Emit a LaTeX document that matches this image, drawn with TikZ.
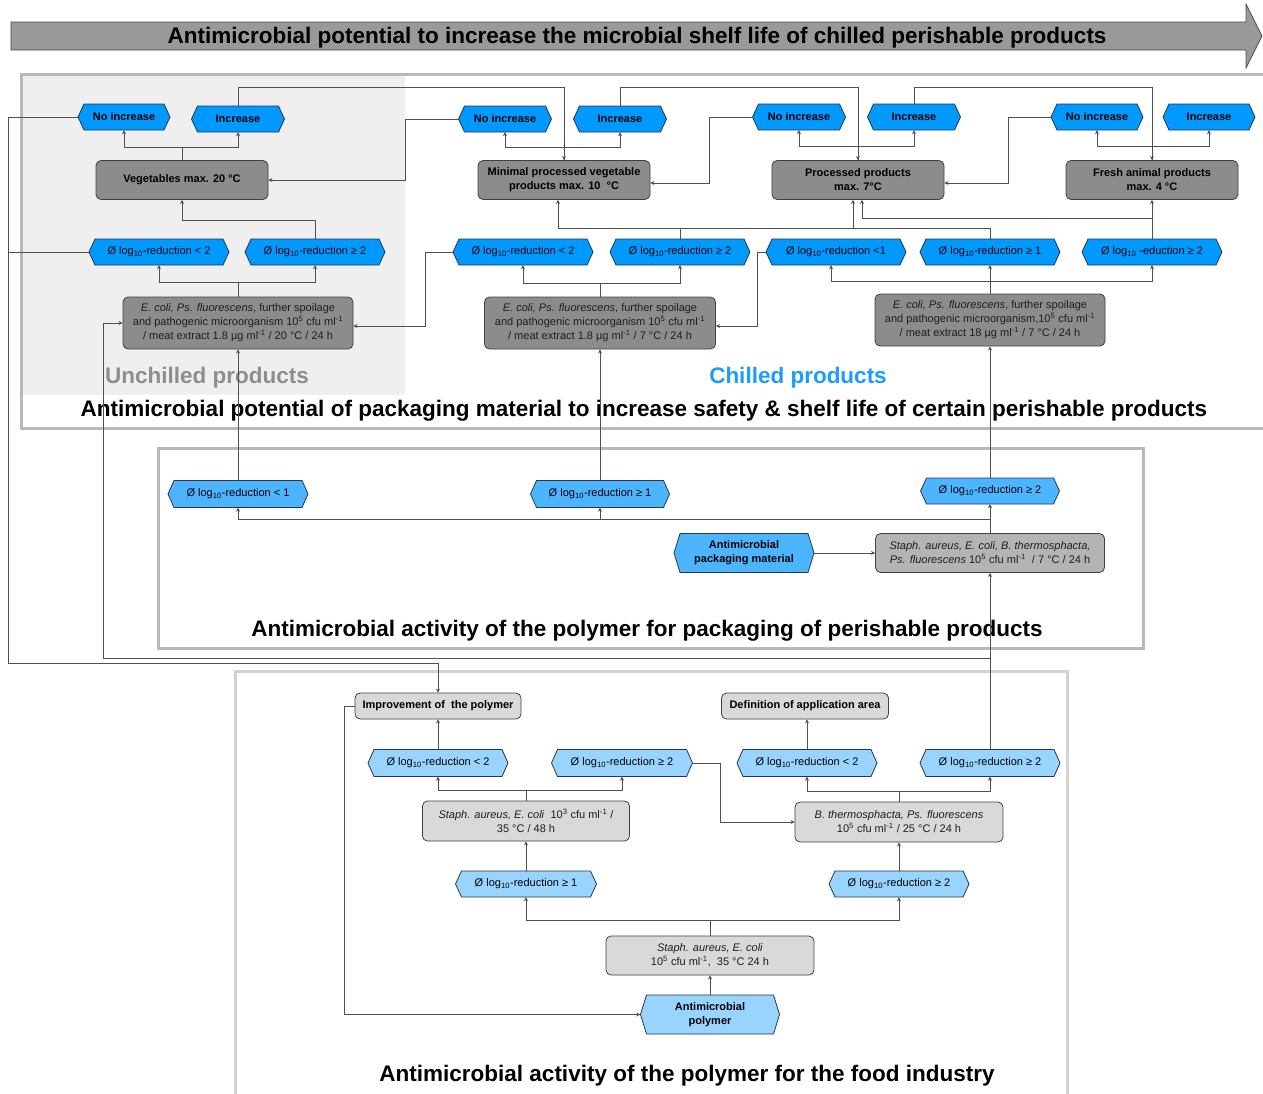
\documentclass[tikz,border=0pt]{standalone}
\usepackage{fontspec}
\setmainfont{Liberation Sans}
\usetikzlibrary{calc,arrows.meta}
\pgfdeclarelayer{bg}
\pgfdeclarelayer{conn}
\pgfsetlayers{bg,conn,main}

\definecolor{blueA}{RGB}{0,153,255}
\definecolor{blueB}{RGB}{77,181,255}
\definecolor{blueC}{RGB}{153,212,255}
\definecolor{grayA}{RGB}{140,140,140}
\definecolor{grayB}{RGB}{180,180,180}
\definecolor{grayC}{RGB}{217,217,217}
\definecolor{hexb}{RGB}{40,55,75}
\definecolor{boxb}{RGB}{64,64,64}
\definecolor{linec}{RGB}{80,80,80}
\definecolor{secA}{RGB}{185,185,185}
\definecolor{secC}{RGB}{210,210,210}
\definecolor{shadeg}{RGB}{239,239,239}
\definecolor{arrowg}{RGB}{153,153,153}
\definecolor{unchg}{RGB}{142,142,142}
\definecolor{chillb}{RGB}{28,156,255}
\definecolor{etext}{RGB}{30,30,30}

\tikzset{
  conn/.style={draw=linec, line width=0.8pt},
  arr/.style={conn, -{Stealth[length=4pt,width=4pt]}},
  both/.style={conn, {Stealth[length=4pt,width=4pt]}-{Stealth[length=4pt,width=4pt]}},
  hexn/.style={shape=rectangle, inner sep=0pt, align=center, text=black,
    font=\fontsize{11}{14}\selectfont},
  gbox/.style={shape=rectangle, draw=boxb, line width=0.8pt, rounded corners=5pt,
    align=center, inner sep=1pt, text=black, font=\fontsize{11}{14}\selectfont},
  ebox/.style={gbox, text=etext, font=\fontsize{11}{14}\selectfont},
  secbox/.style={line width=3pt},
  sectitle/.style={font=\fontsize{22.5}{26}\bfseries\selectfont, text=black, inner sep=0pt}
}

% #1 fill, #2 name, #3 x, #4 y, #5 width, #6 height, #7 text
\newcommand\HexNode[7]{%
  \filldraw[fill=#1, draw=hexb, line width=0.8pt]
    ({#3-#5/2},{#4}) -- ({#3-#5/2+6},{#4-#6/2}) -- ({#3+#5/2-6},{#4-#6/2})
    -- ({#3+#5/2},{#4}) -- ({#3+#5/2-6},{#4+#6/2}) -- ({#3-#5/2+6},{#4+#6/2}) -- cycle;
  \node[hexn, minimum width=#5pt, minimum height=#6pt] (#2) at (#3,#4) {#7};
}
\newcommand\lgr{Ø log\textsubscript{10}-reduction}

\begin{document}
\begin{tikzpicture}[x=1pt,y=-1pt]
\useasboundingbox (0,0) rectangle (1263,1093);

\begin{pgfonlayer}{bg}
  \filldraw[fill=arrowg, draw=black!70, line width=0.8pt]
    (11,22) -- (1246,22) -- (1246,4) -- (1262,36) -- (1246,68) -- (1246,50) -- (11,50) -- cycle;
  \node[font=\fontsize{22.5}{26}\bfseries\selectfont, inner sep=0pt] (ttl) at (637,38)
    {Antimicrobial potential to increase the microbial shelf life of chilled perishable products};
  \fill[shadeg] (23,76) rectangle (405,395);
  \draw[secbox, draw=secA] (21,74) rectangle (1290,428);
  \draw[secbox, draw=secA] (158,448) rectangle (1143,648);
  \draw[secbox, draw=secC] (235,671) rectangle (1067,1110);
  \node[sectitle, text=unchg] (unch) at (207,378) {Unchilled products};
  \node[sectitle, text=chillb] (chill) at (798,378) {Chilled products};
  \node[sectitle] (t1) at (644,411) {Antimicrobial potential of packaging material to increase safety \& shelf life of certain perishable products};
  \node[sectitle] (t2) at (647,631) {Antimicrobial activity of the polymer for packaging of perishable products};
  \node[sectitle] (t3) at (687,1076) {Antimicrobial activity of the polymer for the food industry};
\end{pgfonlayer}

% ---------- top row ----------
\HexNode{blueA}{ni1}{124}{117}{92}{26}{\bfseries No increase}
\HexNode{blueA}{in1}{238}{119}{93}{26}{\bfseries Increase}
\HexNode{blueA}{ni2}{505}{119}{93}{26}{\bfseries No increase}
\HexNode{blueA}{in2}{620}{119}{93}{26}{\bfseries Increase}
\HexNode{blueA}{ni3}{799}{117}{93}{26}{\bfseries No increase}
\HexNode{blueA}{in3}{914}{117}{93}{26}{\bfseries Increase}
\HexNode{blueA}{ni4}{1097}{117}{92}{26}{\bfseries No increase}
\HexNode{blueA}{in4}{1209}{117}{92}{26}{\bfseries Increase}

\node[gbox, fill=grayA, minimum width=172pt, minimum height=39pt, font=\fontsize{11}{14}\bfseries\selectfont] (veg) at (182,180) {Vegetables max. 20 °C};
\node[gbox, fill=grayA, minimum width=172pt, minimum height=39pt, font=\fontsize{11}{14}\bfseries\selectfont] (minp) at (564,180) {Minimal processed vegetable\\products max. 10~ °C};
\node[gbox, fill=grayA, minimum width=172pt, minimum height=39pt, font=\fontsize{11}{14}\bfseries\selectfont] (proc) at (858,180) {Processed products\\max. 7°C};
\node[gbox, fill=grayA, minimum width=172pt, minimum height=39pt, font=\fontsize{11}{14}\bfseries\selectfont] (fresh) at (1152,180) {Fresh animal products\\max. 4 °C};

\HexNode{blueA}{r1a}{159}{252}{140}{26}{\lgr{} < 2}
\HexNode{blueA}{r1b}{315}{252}{140}{26}{\lgr{} ≥ 2}
\HexNode{blueA}{r2a}{523}{252}{140}{26}{\lgr{} < 2}
\HexNode{blueA}{r2b}{680}{252}{140}{26}{\lgr{} ≥ 2}
\HexNode{blueA}{r3a}{836}{252}{140}{26}{\lgr{} <1}
\HexNode{blueA}{r3b}{990}{252}{140}{26}{\lgr{} ≥ 1}
\HexNode{blueA}{r4}{1152}{252}{140}{26}{Ø log\textsubscript{10} -eduction ≥ 2}

\node[ebox, fill=grayA, minimum width=230pt, minimum height=52pt] (e1) at (238,323)
  {\textit{E. coli, Ps. fluorescens}, further spoilage\\and pathogenic microorganism 10\textsuperscript{5} cfu ml\textsuperscript{-1}\\/ meat extract 1.8 µg ml\textsuperscript{-1} / 20 °C / 24 h};
\node[ebox, fill=grayA, minimum width=231pt, minimum height=52pt] (e2) at (600,323)
  {\textit{E. coli, Ps. fluorescens}, further spoilage\\and pathogenic microorganism 10\textsuperscript{5} cfu ml\textsuperscript{-1}\\/ meat extract 1.8 µg ml\textsuperscript{-1} / 7 °C / 24 h};
\node[ebox, fill=grayA, minimum width=230pt, minimum height=52pt] (e3) at (990,320)
  {\textit{E. coli, Ps. fluorescens}, further spoilage\\and pathogenic microorganism,10\textsuperscript{5} cfu ml\textsuperscript{-1}\\/ meat extract 18 µg ml\textsuperscript{-1} / 7 °C / 24 h};

% ---------- middle ----------
\HexNode{blueB}{m1}{238}{494}{140}{27}{\lgr{} < 1}
\HexNode{blueB}{m2}{600}{494}{139}{27}{\lgr{} ≥ 1}
\HexNode{blueB}{m3}{990}{491}{139}{26}{\lgr{} ≥ 2}
\HexNode{blueB}{amp}{744}{553}{140}{39}{\bfseries Antimicrobial\\\bfseries packaging material}
\node[ebox, fill=grayB, minimum width=229pt, minimum height=39pt] (stb) at (990,553)
  {\textit{Staph. aureus, E. coli, B. thermosphacta,}\\\textit{Ps. fluorescens} 10\textsuperscript{5} cfu ml\textsuperscript{-1}~ / 7 °C / 24 h};

% ---------- bottom ----------
\node[gbox, fill=grayC, minimum width=166pt, minimum height=26pt, font=\fontsize{11}{14}\bfseries\selectfont] (impr) at (438,706) {Improvement of~ the polymer};
\node[gbox, fill=grayC, minimum width=167pt, minimum height=26pt, font=\fontsize{11}{14}\bfseries\selectfont] (def) at (805,706) {Definition of application area};
\HexNode{blueC}{b1}{438}{763}{140}{27}{\lgr{} < 2}
\HexNode{blueC}{b2}{622}{763}{141}{27}{\lgr{} ≥ 2}
\HexNode{blueC}{b3}{807}{763}{140}{27}{\lgr{} < 2}
\HexNode{blueC}{b4}{990}{763}{140}{27}{\lgr{} ≥ 2}
\node[ebox, fill=grayC, minimum width=207pt, minimum height=40pt] (sa1) at (526,821)
  {\textit{Staph. aureus, E. coli}~ 10\textsuperscript{3} cfu ml\textsuperscript{-1} /\\35 °C / 48 h};
\node[ebox, fill=grayC, minimum width=208pt, minimum height=40pt] (bt) at (899,822)
  {\textit{B. thermosphacta, Ps. fluorescens}\\10\textsuperscript{5} cfu ml\textsuperscript{-1} / 25 °C / 24 h};
\HexNode{blueC}{b5}{526}{884}{141}{26}{\lgr{} ≥ 1}
\HexNode{blueC}{b6}{899}{884}{140}{26}{\lgr{} ≥ 2}
\node[ebox, fill=grayC, minimum width=208pt, minimum height=39pt] (sa2) at (710,955.5)
  {\textit{Staph. aureus, E. coli}\\10\textsuperscript{5} cfu ml\textsuperscript{-1},~ 35 °C 24 h};
\HexNode{blueC}{ap}{710}{1014.5}{139}{39}{\bfseries Antimicrobial\\\bfseries polymer}

% ---------- connectors ----------
\begin{pgfonlayer}{conn}
  \draw[conn] (veg.north) -- (veg.north |- 0,147);
  \draw[both] (ni1.south) -- (ni1.south |- 0,147) -- (in1.south |- 0,147) -- (in1.south);
  \draw[arr] (in1.north) -- (in1.north |- 0,87) -| (minp.north);
  \draw[arr] (ni2.west) -- (ni2.west -| 405,0) |- (veg.east);
  \draw[arr] (r1b.north) -- (r1b.north |- 0,220) -| (veg.south);
  \draw[arr] (ni1.west) -- (ni1.west -| 8,0) -- (8,663) -| (impr.north);
  \draw[conn] (r1a.west) -- (r1a.west -| 8,0);

  \draw[conn] (minp.north) -- (minp.north |- 0,147);
  \draw[both] (ni2.south) -- (ni2.south |- 0,147) -- (in2.south |- 0,147) -- (in2.south);
  \draw[arr] (in2.north) -- (in2.north |- 0,87) -| (proc.north);
  \draw[arr] (ni3.west) -- (ni3.west -| 709,0) |- ($(minp.east)+(0,3)$);

  \draw[conn] (proc.north) -- (proc.north |- 0,146);
  \draw[both] (ni3.south) -- (ni3.south |- 0,146) -- (in3.south |- 0,146) -- (in3.south);
  \draw[arr] (in3.north) -- (in3.north |- 0,87) -| (fresh.north);
  \draw[arr] (ni4.west) -- (ni4.west -| 1008,0) |- ($(proc.east)+(0,3)$);

  \draw[conn] (fresh.north) -- (fresh.north |- 0,146);
  \draw[both] (ni4.south) -- (ni4.south |- 0,146) -- (in4.south |- 0,146) -- (in4.south);

  \draw[conn] (e1.north) -- (e1.north |- 0,282);
  \draw[both] (r1a.south) -- (r1a.south |- 0,282) -- (r1b.south |- 0,282) -- (r1b.south);
  \draw[arr] (r2a.west) -- (r2a.west -| 425,0) |- ($(e1.east)+(0,3)$);
  \draw[conn] (e2.north) -- (e2.north |- 0,283);
  \draw[both] (r2a.south) -- (r2a.south |- 0,283) -- (r2b.south |- 0,283) -- (r2b.south);
  \draw[arr] (r2b.north) -- (r2b.north |- 0,228) -| ($(minp.south)+(-6,0)$);
  \draw[arr] (r2b.north |- 0,228) -| ($(proc.south)+(-5,0)$);
  \draw[conn] (r3b.north) -- (r3b.north |- 0,228) -- (r2b.north |- 0,228);
  \draw[arr] (r3a.west) -- (r3a.west -| 757,0) |- ($(e2.east)+(0,3)$);
  \draw[arr] (r4.north) -- (fresh.south);
  \draw[arr] (r4.north |- 0,218) -| ($(proc.south)+(4,0)$);
  \draw[conn] (e3.north) -- (e3.north |- 0,281);
  \draw[both] ($(r3a.south)+(-5,0)$) -- ++(0,16) -| (r4.south);
  \draw[arr] (e3.north) -- (r3b.south);

  \draw[arr] (m1.north) -- (e1.south);
  \draw[arr] (m2.north) -- (e2.south);
  \draw[arr] (m3.north) -- (e3.south);
  \draw[arr] (stb.north) -- (m3.south);
  \draw[arr] (stb.north |- 0,519) -| (m1.south);
  \draw[arr] (m2.south |- 0,519) -- (m2.south);
  \draw[arr] (amp.east) -- (stb.west);
  \draw[arr] (b4.north) -- (stb.south);
  \draw[arr] (b4.north |- 0,658) -- (103,658) |- (e1.west);

  \draw[arr] (b1.north) -- (impr.south);
  \draw[conn] (sa1.north) -- (sa1.north |- 0,790);
  \draw[both] (b1.south) -- (b1.south |- 0,790) -- (b2.south |- 0,790) -- (b2.south);
  \draw[arr] (b2.east) -- (b2.east -| 720,0) |- (bt.west);
  \draw[conn] (bt.north) -- (bt.north |- 0,791);
  \draw[both] (b3.south) -- (b3.south |- 0,791) -- (b4.south |- 0,791) -- (b4.south);
  \draw[arr] (b3.north) -- (b3.north |- def.south);
  \draw[arr] (b5.north) -- (sa1.south);
  \draw[arr] (b6.north) -- (bt.south);
  \draw[conn] (sa2.north) -- (sa2.north |- 0,920);
  \draw[both] (b5.south) -- (b5.south |- 0,920) -- (b6.south |- 0,920) -- (b6.south);
  \draw[arr] (ap.north) -- (sa2.south);
  \draw[arr] (impr.west) -- (impr.west -| 344,0) |- (ap.west);
\end{pgfonlayer}
\end{tikzpicture}
\end{document}
